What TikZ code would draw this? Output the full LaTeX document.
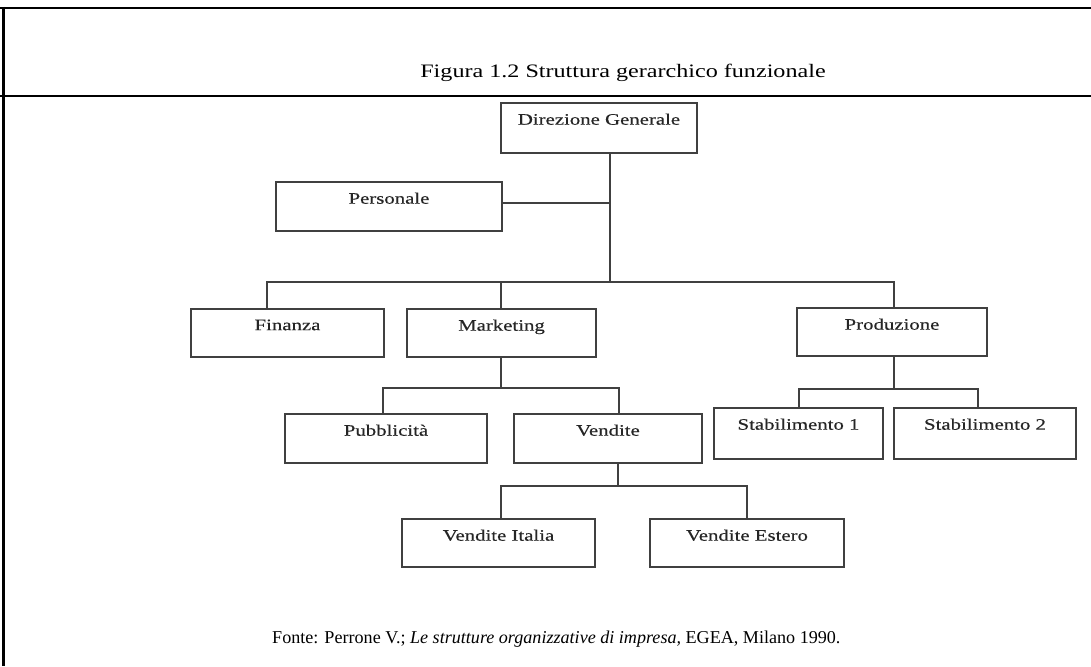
\documentclass[tikz,border=0pt]{standalone}
\usepackage{fontspec}
\newfontfamily\boxfontfam[FakeStretch=1.3,FakeBold=0.4]{Liberation Serif}
\newfontfamily\capfontfam[FakeStretch=1.27]{Liberation Serif}
\newfontfamily\srcfontfam{Liberation Serif}
\begin{document}
\begin{tikzpicture}[x=1pt,y=-1pt,
  box/.style={draw=black!75, line width=1.2pt, rectangle, inner sep=0pt, minimum height=#1},
  box/.default=49,
  lbl/.style={anchor=north, inner sep=0pt, yshift=-11pt, text=black!85, font=\boxfontfam\fontsize{16}{18}\selectfont},
  conn/.style={draw=black!75, line width=1.2pt},
  frame/.style={line width=2.4pt, black}]
\useasboundingbox (0,0) rectangle (1091,666);
% frame
\draw[frame] (0,8) -- (1091,8);
\draw[frame] (0,96) -- (1091,96);
\draw[line width=3pt] (3,7) -- (3,666);
\node[anchor=base, inner sep=0pt, font=\capfontfam\fontsize{19}{23}\selectfont] (title) at (623,78) {Figura 1.2 Struttura gerarchico funzionale};
\node[anchor=base west, inner sep=0pt, font=\srcfontfam\fontsize{18.1}{22}\selectfont] (fonte) at (272,643) {Fonte: Perrone V.; \textit{Le strutture organizzative di impresa,} EGEA, Milano 1990.};
% boxes
\node[box=50, minimum width=196, label={[lbl]north:Direzione Generale}] (dg) at (599,128) {};
\node[box=49, minimum width=226, label={[lbl]north:Personale}] (pers) at (389,206.5) {};
\node[box=48, minimum width=193, label={[lbl]north:Finanza}] (fin) at (287.5,333) {};
\node[box=48, minimum width=189, label={[lbl]north:Marketing}] (mkt) at (501.5,333) {};
\node[box=48, minimum width=190, label={[lbl]north:Produzione}] (prod) at (892,332) {};
\node[box=49, minimum width=202, label={[lbl]north:Pubblicità}] (pub) at (386,438.5) {};
\node[box=49, minimum width=188, label={[lbl]north:Vendite}] (ven) at (608,438.5) {};
\node[box=51, minimum width=169, label={[lbl]north:Stabilimento 1}] (st1) at (798.5,433.5) {};
\node[box=51, minimum width=182, label={[lbl]north:Stabilimento 2}] (st2) at (985,433.5) {};
\node[box=48, minimum width=193, label={[lbl]north:Vendite Italia}] (vi) at (498.5,543) {};
\node[box=48, minimum width=194, label={[lbl]north:Vendite Estero}] (ve) at (747,543) {};
% junctions
\coordinate (j0) at (610,282);
\coordinate (jp) at (610,203);
\coordinate (jf) at (267,282);
\coordinate (jpr) at (894,282);
\coordinate (jm) at (501,388);
\coordinate (jmL) at (383,388);
\coordinate (jmR) at (619,388);
\coordinate (jq) at (894,389);
\coordinate (jqL) at (799,389);
\coordinate (jqR) at (978,389);
\coordinate (jv) at (618,486);
\coordinate (jvL) at (501,486);
\coordinate (jvR) at (747,486);
% connectors
\draw[conn] (dg.south -| j0) -- (j0);
\draw[conn] (pers.east |- jp) -- (jp);
\draw[conn] (jf |- fin.north) -- (jf) -- (jpr) -- (jpr |- prod.north);
\draw[conn] (mkt.north -| jm) -- (jm |- jf);
\draw[conn] (mkt.south -| jm) -- (jm);
\draw[conn] (jmL |- pub.north) -- (jmL) -- (jmR) -- (jmR |- ven.north);
\draw[conn] (prod.south -| jq) -- (jq);
\draw[conn] (jqL |- st1.north) -- (jqL) -- (jqR) -- (jqR |- st2.north);
\draw[conn] (ven.south -| jv) -- (jv);
\draw[conn] (jvL |- vi.north) -- (jvL) -- (jvR) -- (jvR |- ve.north);
\end{tikzpicture}
\end{document}
